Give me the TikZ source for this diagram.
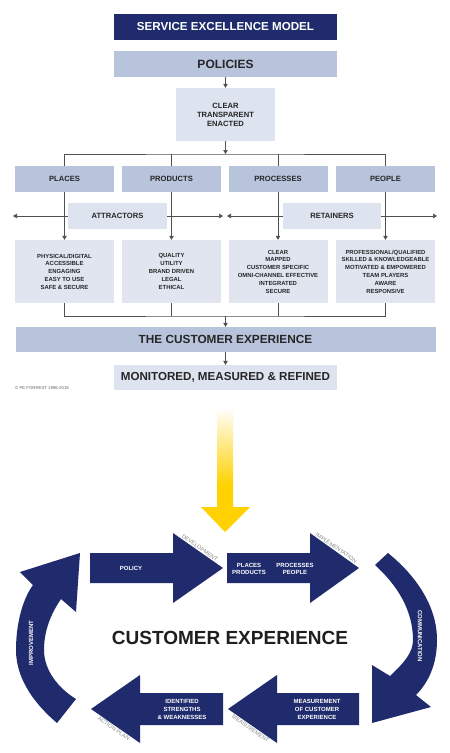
\documentclass[tikz,border=0pt]{standalone}
\usepackage{fontspec}
\setmainfont{Liberation Sans}
\usetikzlibrary{arrows.meta}
\definecolor{navy}{HTML}{1F2B6C}
\definecolor{midblue}{HTML}{B8C4DC}
\definecolor{lightblue}{HTML}{DDE3EF}
\definecolor{infoblue}{HTML}{E0E5F0}
\definecolor{linegray}{HTML}{505050}
\definecolor{gold}{HTML}{FFD100}
\definecolor{labelgray}{HTML}{8A8A8A}
\pgfdeclareverticalshading{goldfade}{100bp}{color(0bp)=(gold); color(44bp)=(gold); color(75bp)=(white); color(100bp)=(white)}
\begin{document}
\begin{tikzpicture}[x=1pt,y=-1pt,
  box/.style={inner sep=0pt, align=center, text=black!85},
  bigbox/.style={box, minimum width=223pt, minimum height=26pt},
  catbox/.style={box, fill=midblue, minimum width=99pt, minimum height=26pt, font=\bfseries\fontsize{7.6}{9}\selectfont},
  infobox/.style={box, fill=infoblue, minimum width=99pt, minimum height=63pt, font=\bfseries\fontsize{5.9}{7.8}\selectfont},
  midbox/.style={box, fill=lightblue, minimum width=99pt, minimum height=26pt, font=\bfseries\fontsize{7.6}{9}\selectfont},
  conn/.style={draw=linegray, line width=0.7pt},
  arr/.style={conn, -{Triangle[length=4pt,width=4.5pt]}},
  cyctext/.style={inner sep=0pt, align=center, text=white, font=\bfseries\fontsize{6}{7.8}\selectfont},
  edgelabel/.style={inner sep=1pt, text=labelgray, font=\fontsize{5.6}{6}\selectfont},
  arclabel/.style={inner sep=0pt, text=white, font=\bfseries\fontsize{6}{7}\selectfont}
]
\useasboundingbox (0,0) rectangle (450,753);
\fill[white] (0,0) rectangle (450,753);

% ---------- top model ----------
\node[bigbox, fill=navy, text=white, font=\bfseries\fontsize{11.6}{13}\selectfont] (title) at (225.5,27) {SERVICE EXCELLENCE MODEL};
\node[bigbox, fill=midblue, font=\bfseries\fontsize{12}{14}\selectfont] (policies) at (225.5,64) {POLICIES};
\node[box, fill=lightblue, minimum width=99pt, minimum height=53pt, font=\bfseries\fontsize{7.6}{9}\selectfont] (clear) at (225.5,114.5) {CLEAR\\TRANSPARENT\\ENACTED};

\node[catbox] (places) at (64.5,179) {PLACES};
\node[catbox] (products) at (171.5,179) {PRODUCTS};
\node[catbox] (processes) at (278,179) {PROCESSES};
\node[catbox] (people) at (385.5,179) {PEOPLE};

\node[midbox] (attract) at (117.5,216) {ATTRACTORS};
\node[midbox, minimum width=98pt] (retain) at (332,216) {RETAINERS};

\node[infobox] (info1) at (64.5,271.5) {PHYSICAL/DIGITAL\\ACCESSIBLE\\ENGAGING\\EASY TO USE\\SAFE \& SECURE};
\node[infobox] (info2) at (171.5,271.5) {QUALITY\\UTILITY\\BRAND DRIVEN\\LEGAL\\ETHICAL};
\node[infobox] (info3) at (278,271.5) {CLEAR\\MAPPED\\CUSTOMER SPECIFIC\\OMNI-CHANNEL EFFECTIVE\\INTEGRATED\\SECURE};
\node[infobox] (info4) at (385.5,271.5) {PROFESSIONAL/QUALIFIED\\SKILLED \& KNOWLEDGEABLE\\MOTIVATED \& EMPOWERED\\TEAM PLAYERS\\AWARE\\RESPONSIVE};

\node[box, fill=midblue, minimum width=420pt, minimum height=25pt, font=\bfseries\fontsize{11.8}{14}\selectfont] (tce) at (225.5,339.5) {THE CUSTOMER EXPERIENCE};
\node[bigbox, fill=lightblue, minimum height=25pt, font=\bfseries\fontsize{11.6}{14}\selectfont] (monitor) at (225.5,377.5) {MONITORED, MEASURED \& REFINED};
\node[inner sep=0pt, anchor=west, text=black!60, font=\fontsize{4.3}{5}\selectfont] (copy) at (15,388) {\textcopyright\ PE FORREST 1986-2018};

\coordinate (split) at (225.5,154);
\coordinate (merge) at (225.5,316);
\coordinate (aL) at (13,216);
\coordinate (aR) at (223,216);
\coordinate (rL) at (227,216);
\coordinate (rR) at (437,216);

\draw[arr] (policies) -- (clear);
\draw[arr] (clear) -- (split);
\draw[conn] (places.north) |- (split) -| (people.north);
\draw[conn] (products.north) -- (products.north |- split);
\draw[conn] (processes.north) -- (processes.north |- split);

\draw[arr] (attract) -- (aL);
\draw[arr] (attract) -- (aR);
\draw[arr] (retain) -- (rL);
\draw[arr] (retain) -- (rR);

\draw[arr] (places) -- (info1);
\draw[arr] (products) -- (info2);
\draw[arr] (processes) -- (info3);
\draw[arr] (people) -- (info4);

\draw[conn] (info1.south) |- (merge) -| (info4.south);
\draw[conn] (info2.south) -- (info2.south |- merge);
\draw[conn] (info3.south) -- (info3.south |- merge);
\draw[arr] (merge) -- (tce);
\draw[arr] (tce) -- (monitor);

% ---------- yellow arrow ----------
\shade[shading=goldfade] (217,408) -- (233,408) -- (233,507) -- (250,507) -- (225,532) -- (201,507) -- (217,507) -- cycle;

% ---------- cycle ----------
\fill[navy] (90,553) -- (173,553) -- (173,533) -- (223,568) -- (173,603) -- (173,583) -- (90,583) -- cycle;
\fill[navy] (227,553) -- (310,553) -- (310,533) -- (359,568) -- (310,603) -- (310,583) -- (227,583) -- cycle;
\fill[navy] (223,693) -- (140,693) -- (140,675) -- (91,709) -- (140,743) -- (140,725) -- (223,725) -- cycle;
\fill[navy] (359,693) -- (277,693) -- (277,675) -- (228,709) -- (277,743) -- (277,725) -- (359,725) -- cycle;

% right curved arrow
\fill[navy] (388,553) .. controls (415,575) and (437,605) .. (437,640)
  .. controls (437,665) and (428,683) .. (416,695)
  -- (431,707) -- (372,723) -- (372,665) -- (390,676)
  .. controls (405,662) and (413,652) .. (413,640)
  .. controls (413,610) and (397,585) .. (375,565) -- cycle;
% left curved arrow
\fill[navy] (57,723) .. controls (30,700) and (16,675) .. (16,650)
  .. controls (16,625) and (22,600) .. (33,585)
  -- (20,572) -- (80,553) -- (76,612) -- (61,599)
  .. controls (50,615) and (44,632) .. (44,650)
  .. controls (44,670) and (58,688) .. (76,699) -- cycle;

\node[cyctext] (tpolicy) at (131,568) {POLICY};
\node[cyctext, font=\bfseries\fontsize{6}{7}\selectfont] (tpl) at (249,568.5) {PLACES\\PRODUCTS};
\node[cyctext, font=\bfseries\fontsize{6}{7}\selectfont] (tpp) at (295,568.5) {PROCESSES\\PEOPLE};
\node[cyctext] (tident) at (182,709.5) {IDENTIFIED\\STRENGTHS\\\& WEAKNESSES};
\node[cyctext] (tmeas) at (317,709.5) {MEASUREMENT\\OF CUSTOMER\\EXPERIENCE};

\node[edgelabel, rotate=-35, anchor=south] (ldev) at (198,550.5) {DEVELOPMENT};
\node[edgelabel, rotate=-35, anchor=south] (limp) at (334.5,550.5) {IMPLEMENTATION};
\node[edgelabel, rotate=-35, anchor=north] (lact) at (115.5,726) {ACTION PLAN};
\node[edgelabel, rotate=-35, anchor=north] (lmeas) at (252.5,726) {MEASUREMENT};

\node[arclabel, rotate=90] (limpr) at (31,643) {IMPROVEMENT};
\node[arclabel, rotate=-90] (lcomm) at (420,636) {COMMUNICATION};

\node[inner sep=0pt, text=black!88, font=\bfseries\fontsize{19}{22}\selectfont] (cx) at (230,637.5) {CUSTOMER EXPERIENCE};
\end{tikzpicture}
\end{document}
